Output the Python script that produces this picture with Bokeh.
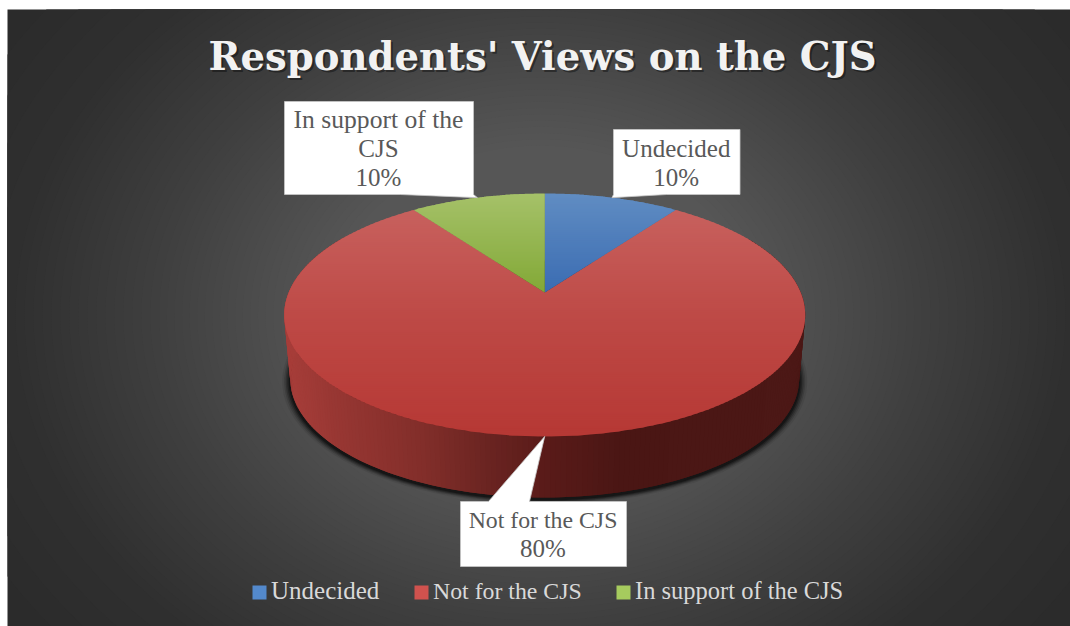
import numpy as np
from bokeh.core.properties import value
from bokeh.embed import file_html
from bokeh.models import Range1d
from bokeh.plotting import figure
from bokeh.resources import INLINE

TITLE = "Respondents' Views on the CJS"
categories = ["Undecided", "Not for the CJS", "In support of the CJS"]
shares = [10, 80, 10]
# wrapped callout text, one entry per line
label_lines = [["Undecided"], ["Not for the CJS"], ["In support of the", "CJS"]]

# top-of-slice colours at the far rim and at the near rim
slice_far = [(96, 140, 194), (201, 100, 97), (165, 193, 105)]
slice_near = [(58, 108, 178), (182, 56, 52), (130, 168, 54)]
legend_colors = ["#5389CC", "#D0524E", "#A6CB5E"]

W, H = 1070, 626
SERIF = "Liberation Serif"
CX, CY = 544.2, 292.0
# the browser places alphabetic text lower than requested by this share of the size
BASELINE_SHIFT = 0.37

p = figure(width=W, height=H, output_backend="svg", toolbar_location=None,
           x_range=Range1d(7, W), y_range=Range1d(H, 9),
           x_axis_type=None, y_axis_type=None,
           min_border_left=7, min_border_top=9, min_border_right=0, min_border_bottom=0,
           border_fill_color="white", outline_line_color=None, background_fill_color="#2B2B2B")
p.grid.visible = False


def hexcol(rgb):
    return "#%02X%02X%02X" % tuple(int(round(c)) for c in rgb)


def mix(a, b, t):
    return [x + (y - x) * t for x, y in zip(a, b)]


def put_text(x, baseline, text, size, color, align="center", style="normal", alpha=1.0, font=SERIF):
    p.text(x=[x], y=[baseline - BASELINE_SHIFT * size], text=[text],
           text_font=value(font), text_font_size=value("%gpx" % size), text_font_style=style,
           text_color=color, text_alpha=alpha, text_align=align, text_baseline="alphabetic")


# Radial backdrop: one ellipse per grey level, darkest first
levels = np.arange(0x2C, 0x57)
reach = np.interp(levels, [43, 48, 64, 78, 86], [520, 420, 305, 220, 170])
p.ellipse(x=[540] * len(levels), y=[315] * len(levels),
          width=list(2 * 1.25 * reach), height=list(2 * reach),
          fill_color=[hexcol((g, g, g)) for g in levels], line_color=None)

# Perspective view of a disc: angle measured clockwise from the far side
PERSP = 0.185


def rim(theta, half_w=256.0, half_h=117.3, cy=CY):
    u, v = np.sin(theta), np.cos(theta)
    d = 1 + PERSP * v
    return CX + half_w * u / d, cy - half_h * v / d


def lower_rim(theta, grow=0.0, dy=0.0):
    return rim(theta, 250.0 + grow, 114.5 + grow * 0.5, 356.5 + dy)


def clip_band(xs, ys, y0, y1):
    pts = list(zip(xs, ys))
    for limit, keep_below in ((y0, True), (y1, False)):
        out = []
        for i, (xa, ya) in enumerate(pts):
            xb, yb = pts[(i + 1) % len(pts)]
            ina = ya >= limit if keep_below else ya <= limit
            inb = yb >= limit if keep_below else yb <= limit
            if ina:
                out.append((xa, ya))
            if ina != inb:
                t = (limit - ya) / (yb - ya)
                out.append((xa + (xb - xa) * t, limit))
        pts = out
        if not pts:
            return [], []
    return [q[0] for q in pts], [q[1] for q in pts]


# Soft shadow under the pie
all_t = np.linspace(0, 2 * np.pi, 361)
for grow, alpha in ((8, 0.08), (6, 0.14), (4.5, 0.2), (3, 0.28), (1.5, 0.38)):
    sx, sy = lower_rim(all_t, grow, 2.0)
    p.patch(list(sx), list(sy), fill_color="black", fill_alpha=alpha, line_color=None)

# Side wall, shaded left to right; each strip overlaps the next to hide seams
wall_x = [284, 340, 420, 480, 540, 620, 810]
wall_r = [168, 150, 130, 108, 90, 74, 76]
wall_g = [62, 54, 46, 37, 27, 22, 24]
wall_b = [58, 50, 42, 34, 25, 20, 22]
steps = np.radians(np.arange(60, 301, 1.0))
wx, wy, wc = [], [], []
for a in steps[:-1]:
    b = a + np.radians(2.0)
    ax, ay = rim(a)
    bx, by = rim(b)
    cx, cy = lower_rim(b)
    dx, dy = lower_rim(a)
    wx.append([ax, bx, cx, dx])
    wy.append([ay, by, cy, dy])
    m = (ax + bx + cx + dx) / 4
    wc.append(hexcol((np.interp(m, wall_x, wall_r), np.interp(m, wall_x, wall_g), np.interp(m, wall_x, wall_b))))
p.patches(wx, wy, fill_color=wc, line_color=None)

# Top face, cut into overlapping horizontal bands for its vertical shading
edges = np.cumsum([0] + shares) / sum(shares) * 2 * np.pi
band_edges = np.arange(190, 440, 2.0)
for i in (1, 0, 2):
    t = np.linspace(edges[i], edges[i + 1], 120)
    rx, ry = rim(t)
    px = [CX] + list(rx)
    py = [CY] + list(ry)
    bx_list, by_list, colors = [], [], []
    for y0 in band_edges:
        bx, by = clip_band(px, py, y0, y0 + 3)
        if len(bx) < 3:
            continue
        bx_list.append(bx)
        by_list.append(by)
        if i == 1:
            f = np.interp(y0, [193, 320, 436], [0, 0.62, 1])
        else:
            f = np.interp(y0, [193, 292], [0, 1])
        colors.append(hexcol(mix(slice_far[i], slice_near[i], f)))
    p.patches(bx_list, by_list, fill_color=colors, line_color=None)

# Callouts: box plus pointer aimed at the middle of each slice
boxes = [(613, 739.5, 129, 194), (460, 626, 501, 566), (284, 473, 101, 194)]
pointer_base = [(613, 666), (488, 529), (400, 473)]
last_baseline = [186, 557, 186]
line_sizes = {"Undecided": 25, "Not for the CJS": 23.8, "In support of the": 25.6}
mids = (edges[:-1] + edges[1:]) / 2
for i, (l, r, t_, b) in enumerate(boxes):
    tx, ty = rim(mids[i])
    b0, b1 = pointer_base[i]
    if ty < t_:
        xs = [l, b0, float(tx), b1, r, r, l]
        ys = [t_, t_, float(ty), t_, t_, b, b]
    else:
        xs = [l, r, r, b1, float(tx), b0, l]
        ys = [t_, t_, b, b, float(ty), b, b]
    p.patch(xs, ys, fill_color="white", line_color="#C8C8C8", line_width=0.8)

    lines = label_lines[i] + ["%d%%" % shares[i]]
    first = last_baseline[i] - 29 * (len(lines) - 1)
    for k, line in enumerate(lines):
        put_text((l + r) / 2 - 0.5, first + 29 * k, line, line_sizes.get(line, 25), "#595959")

# Legend
legend_left = [252, 414, 616]
legend_sizes = [25, 23.8, 24.5]
for i, name in enumerate(categories):
    p.quad(left=[legend_left[i]], right=[legend_left[i] + 14], top=[585], bottom=[599],
           fill_color=legend_colors[i], line_color=None)
    put_text(legend_left[i] + 18.5, 599, name, legend_sizes[i], "#D9D9D9", align="left")

# Title with a soft drop shadow
TITLE_FONT = "DejaVu Serif"
put_text(544, 72, TITLE, 38.6, "black", style="bold", alpha=0.4, font=TITLE_FONT)
put_text(542, 70, TITLE, 38.6, "#F2F2F2", style="bold", font=TITLE_FONT)

open("out.html", "w").write(file_html(p, INLINE))
